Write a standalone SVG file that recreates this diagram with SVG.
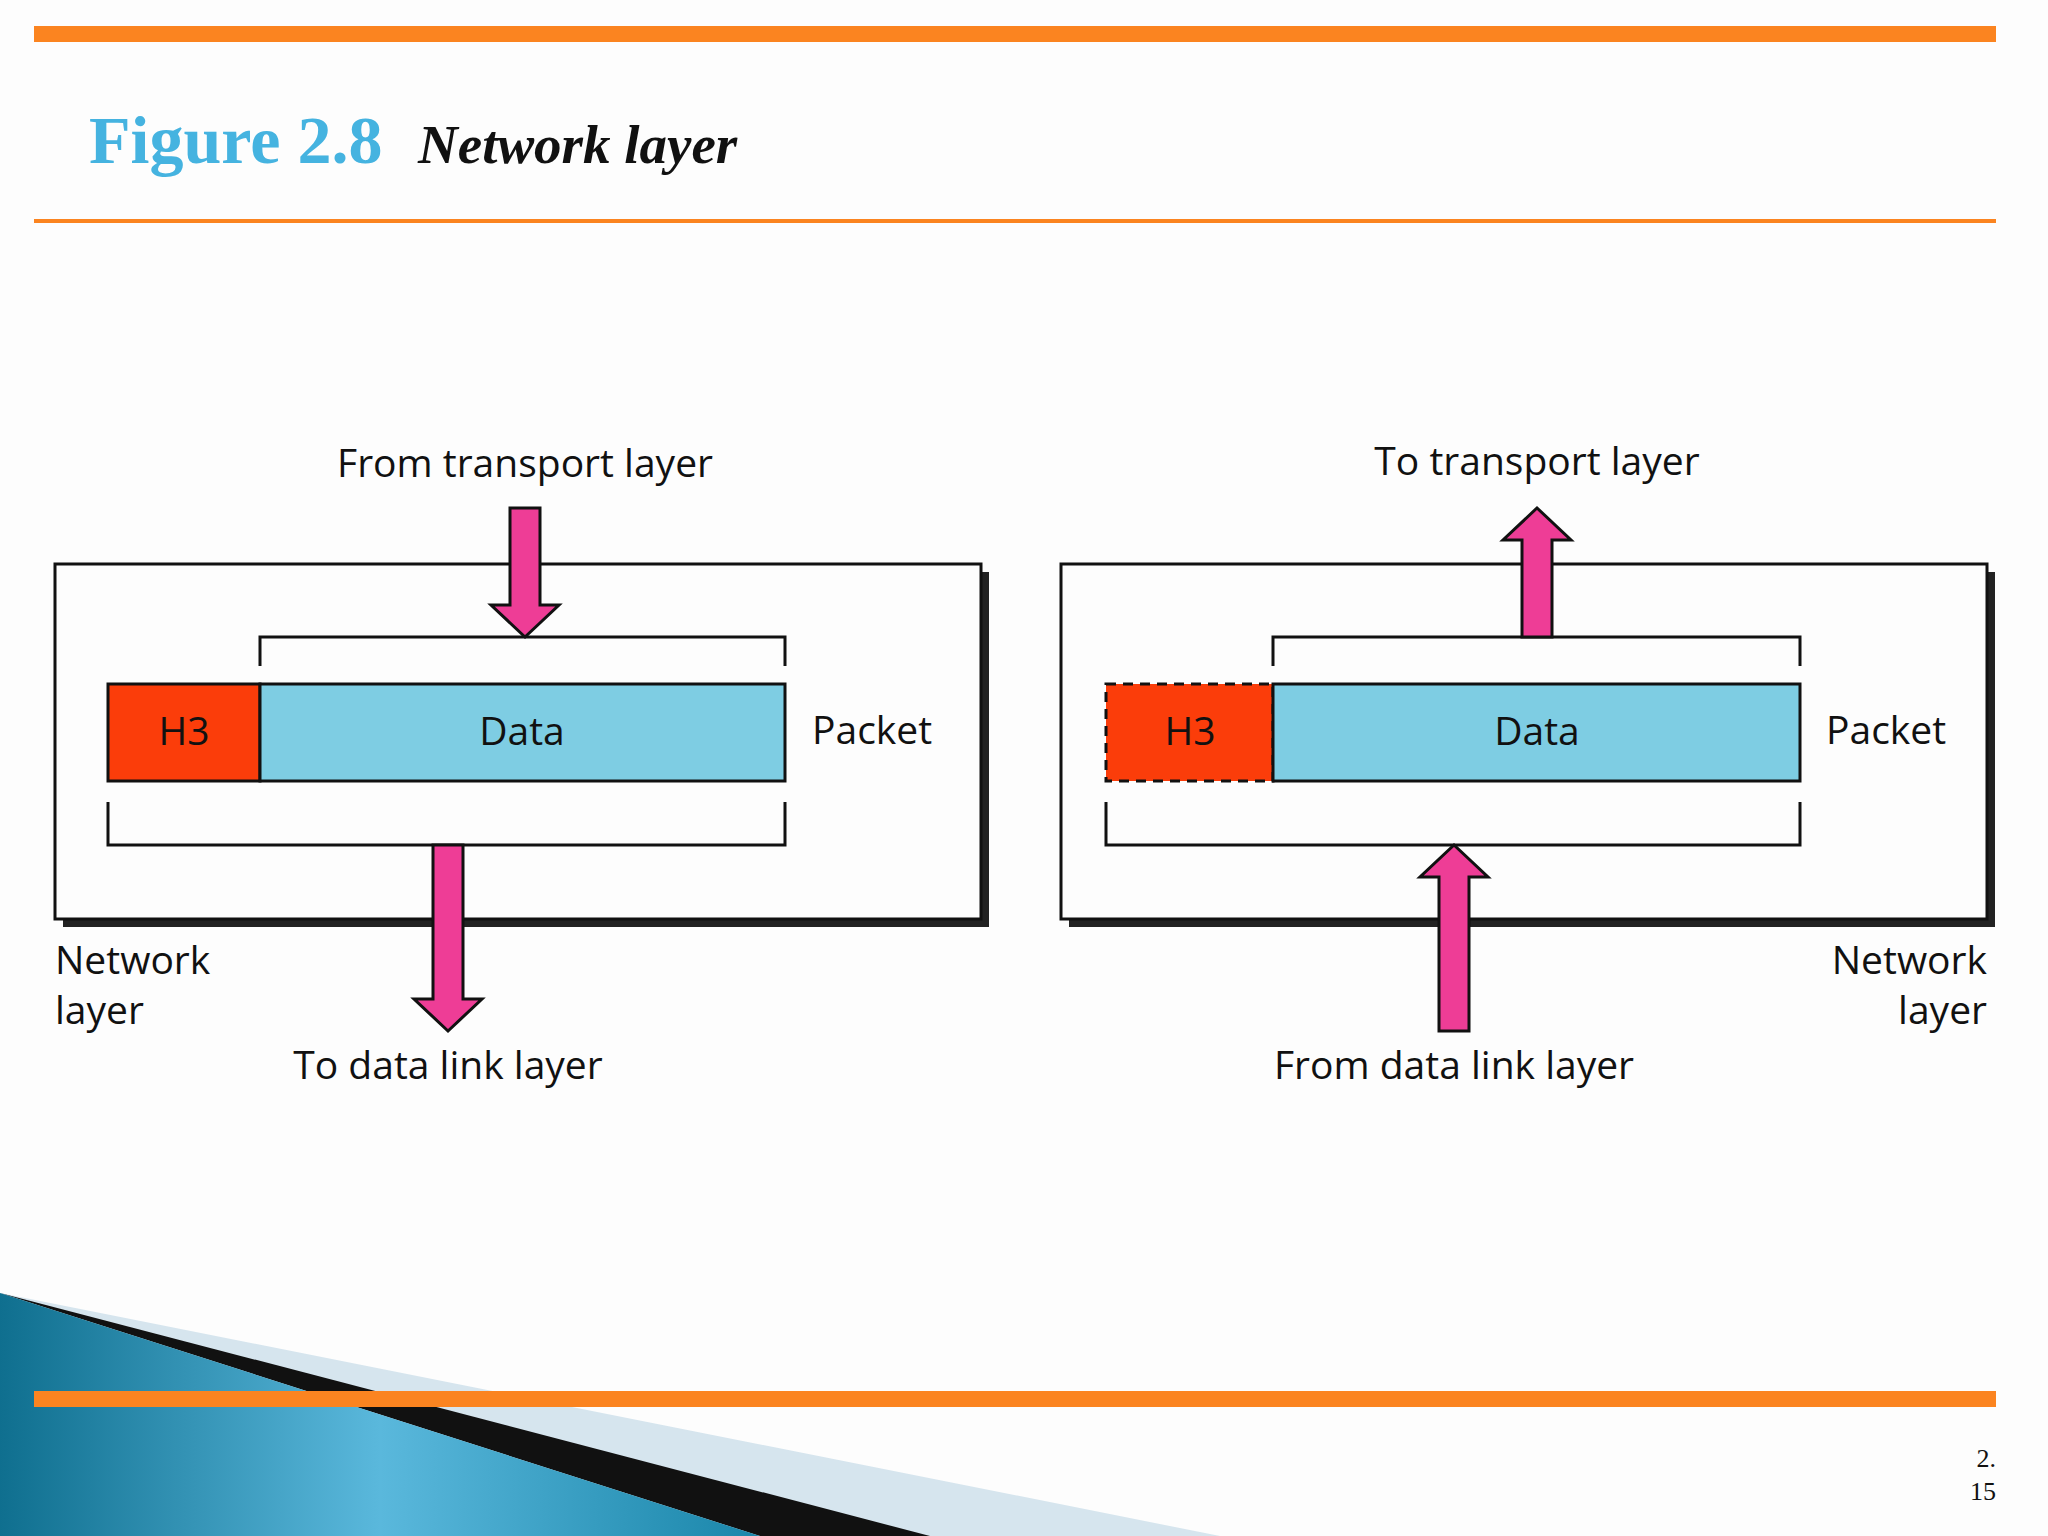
<svg xmlns="http://www.w3.org/2000/svg" width="2048" height="1536" viewBox="0 0 2048 1536">
<defs>
<linearGradient id="bl" x1="0" y1="0" x2="1" y2="0"><stop offset="0" stop-color="#0f6f8f"/><stop offset="0.5" stop-color="#5ab8dc"/><stop offset="1" stop-color="#1a86aa"/></linearGradient>
<style>
.lbl{font-family:"Open Sans","Liberation Sans",sans-serif;font-size:39px;fill:#111}
.box{fill:#fdfdfd;stroke:#111;stroke-width:3}
.sh{fill:#222}
.h3{fill:#fb3d0a;stroke:#111;stroke-width:3}
.data{fill:#7ecde3;stroke:#111;stroke-width:3}
.br{fill:none;stroke:#111;stroke-width:3}
.arr{fill:#ee3d96;stroke:#111;stroke-width:3}
</style>
</defs>
<rect width="2048" height="1536" fill="#fdfdfd"/>
<rect x="34" y="26" width="1962" height="16" fill="#fb8420"/>
<rect x="34" y="219" width="1962" height="4" fill="#fb8420"/>
<text x="89" y="163" font-family="Liberation Serif,serif" font-weight="bold" font-size="68" fill="#45b3e0">Figure 2.8</text>
<text x="418" y="163" font-family="Liberation Serif,serif" font-weight="bold" font-style="italic" font-size="55" fill="#111">Network layer</text>
<polygon points="0,1293 1220,1536 0,1536" fill="#d6e5ee"/>
<polygon points="0,1293 930,1536 760,1536" fill="#111"/>
<polygon points="0,1293 760,1536 0,1536" fill="url(#bl)"/>
<rect x="34" y="1391" width="1962" height="16" fill="#fb8420"/>
<text x="1996" y="1467" text-anchor="end" font-family="Liberation Serif,serif" font-size="26" fill="#111">2.</text>
<text x="1996" y="1500" text-anchor="end" font-family="Liberation Serif,serif" font-size="26" fill="#111">15</text>
<g id="left">
<rect class="sh" x="63" y="572" width="926" height="355"/>
<rect class="box" x="55" y="564" width="926" height="355"/>
<rect class="h3" x="108" y="684" width="152" height="97"/>
<rect class="data" x="260" y="684" width="525" height="97"/>
<text class="lbl" x="184" y="745" text-anchor="middle">H3</text>
<text class="lbl" x="522" y="745" text-anchor="middle">Data</text>
<path class="br" d="M260,666 V637 H785 V666"/>
<path class="br" d="M108,802 V845 H785 V802"/>
<text class="lbl" x="812" y="744">Packet</text>
<text class="lbl" x="55" y="974">Network</text>
<text class="lbl" x="55" y="1024">layer</text>
<text class="lbl" x="525" y="477" text-anchor="middle">From transport layer</text>
<text class="lbl" x="448" y="1079" text-anchor="middle">To data link layer</text>
</g>
<g id="right">
<rect class="sh" x="1069" y="572" width="926" height="355"/>
<rect class="box" x="1061" y="564" width="926" height="355"/>
<rect class="h3" x="1106" y="684" width="167" height="97" stroke-dasharray="10,7"/>
<rect class="data" x="1273" y="684" width="527" height="97"/>
<text class="lbl" x="1190" y="745" text-anchor="middle">H3</text>
<text class="lbl" x="1537" y="745" text-anchor="middle">Data</text>
<path class="br" d="M1273,666 V637 H1800 V666"/>
<path class="br" d="M1106,802 V845 H1800 V802"/>
<text class="lbl" x="1826" y="744">Packet</text>
<text class="lbl" x="1987" y="974" text-anchor="end">Network</text>
<text class="lbl" x="1987" y="1024" text-anchor="end">layer</text>
<text class="lbl" x="1537" y="475" text-anchor="middle">To transport layer</text>
<text class="lbl" x="1454" y="1079" text-anchor="middle">From data link layer</text>
</g>
<g id="connectors">
<polygon class="arr" points="510,508 540,508 540,605 559,605 525,637 491,605 510,605"/>
<polygon class="arr" points="433,845 463,845 463,999 482,999 448,1031 414,999 433,999"/>
<polygon class="arr" points="1522,637 1552,637 1552,540 1571,540 1537,508 1503,540 1522,540"/>
<polygon class="arr" points="1439,1031 1469,1031 1469,877 1488,877 1454,845 1420,877 1439,877"/>
</g>
</svg>
